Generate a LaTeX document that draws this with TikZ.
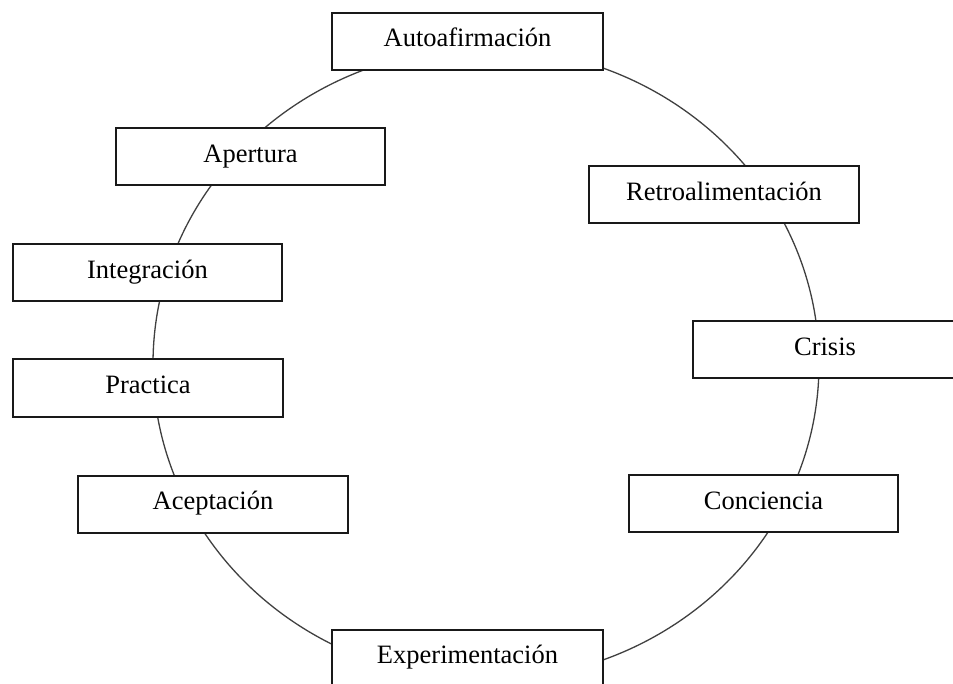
\documentclass[tikz,border=0pt]{standalone}
\usepackage{fontspec}
\setmainfont{Liberation Serif}
\begin{document}
\begin{tikzpicture}[x=1pt,y=-1pt,
  stage/.style={draw=black!90, line width=2pt, fill=white,
    minimum width=270pt, minimum height=57pt, inner sep=0pt,
    text height=17pt, text depth=6pt,
    font=\fontsize{26.5}{30}\selectfont},
  cycle/.style={draw=black!75, line width=1.3pt}]
  \useasboundingbox (0,0) rectangle (953,684);
  \fill[white] (0,0) rectangle (953,684);
  % the cycle behind the stages
  \draw[cycle] (486,364) ellipse [x radius=333, y radius=316];
  % stages, clockwise from the top
  \node[stage, minimum width=271pt] (auto)  at (467.5,41.5) {Autoafirmación};
  \node[stage] (retro) at (724,195)   {Retroalimentación};
  \node[stage, minimum width=264pt] (crisis) at (825,350) {Crisis};
  \node[stage, minimum width=269pt] (conc) at (763.5,503.5) {Conciencia};
  \node[stage, minimum width=271pt] (exper) at (467.5,658) {Experimentación};
  \node[stage] (acep)  at (213,504)   {Aceptación};
  \node[stage] (prac)  at (148,388)   {Practica};
  \node[stage, minimum width=269pt] (integ) at (147.5,273) {Integración};
  \node[stage, minimum width=269pt] (aper)  at (250.5,157) {Apertura};
\end{tikzpicture}
\end{document}
